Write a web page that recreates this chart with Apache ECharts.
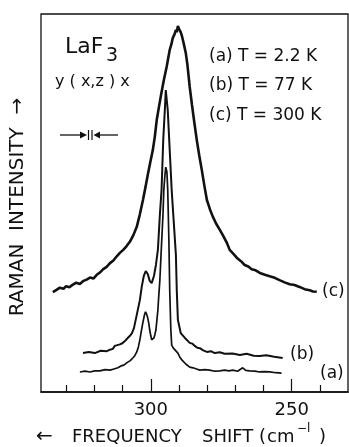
<!DOCTYPE html>
<html><head><meta charset="utf-8">
<script src="https://cdn.jsdelivr.net/npm/echarts@6/dist/echarts.min.js"></script>
<style>html,body{margin:0;padding:0;background:#fff}#c{width:349px;height:447px}</style>
</head><body><div id="c"></div>
<script>
// Frequency shift (cm-1) vs Raman intensity (arb. units, offset curves)
const cData = [[334.8,26.4],[333.5,27.0],[332.3,27.6],[331.0,27.3],[330.1,28.0],[328.9,27.7],[327.7,28.4],[326.5,28.9],[325.2,28.6],[323.9,29.4],[322.6,29.8],[321.6,30.3],[320.4,30.0],[319.2,31.0],[318.1,31.6],[316.9,32.5],[315.7,33.1],[314.5,34.1],[313.3,34.8],[312.1,35.9],[311.0,36.8],[309.8,37.6],[308.6,38.6],[307.4,39.8],[306.2,41.5],[305.0,43.7],[303.9,47.0],[302.8,50.8],[301.9,54.2],[301.1,57.4],[300.2,60.8],[299.3,64.0],[298.6,67.5],[297.9,72.0],[297.1,75.5],[296.3,78.9],[295.4,82.5],[294.4,86.0],[293.3,90.5],[292.7,92.0],[292.2,93.7],[291.6,94.6],[291.1,95.8],[290.8,95.2],[290.4,96.8],[290.0,96.1],[289.6,96.5],[289.4,95.2],[288.9,94.0],[288.3,92.1],[287.6,89.7],[287.0,86.5],[286.2,80.7],[285.4,76.0],[284.6,71.5],[283.7,66.7],[282.8,62.5],[281.9,58.7],[281.0,54.6],[280.1,50.8],[279.0,48.3],[278.0,46.4],[276.8,44.5],[275.5,42.9],[274.3,41.3],[273.1,39.6],[272.0,37.6],[270.6,36.5],[269.2,35.3],[268.0,34.6],[266.7,33.6],[265.4,33.2],[264.2,32.5],[262.8,32.2],[261.3,31.5],[259.5,31.0],[257.8,30.6],[256.0,30.2],[254.3,29.6],[252.5,29.0],[250.7,28.5],[249.0,28.3],[247.2,27.8],[245.4,27.2],[243.6,26.9],[242.4,26.6],[241.1,26.5]];
const bData = [[324.1,10.3],[322.0,10.6],[319.9,10.3],[317.8,10.9],[315.6,10.8],[314.5,11.2],[313.5,11.4],[312.8,12.2],[312.1,12.4],[311.0,12.6],[310.1,12.9],[309.2,13.5],[308.3,14.2],[307.5,14.8],[306.7,15.6],[306.0,16.9],[305.0,20.4],[303.9,24.3],[303.2,28.0],[302.5,30.7],[301.8,32.0],[301.1,31.2],[300.4,29.4],[299.7,28.8],[298.9,30.7],[298.2,33.6],[297.5,37.6],[296.8,46.8],[296.2,53.4],[295.6,66.7],[295.0,75.1],[294.7,79.9],[294.0,74.6],[293.3,64.0],[292.6,53.4],[291.8,44.2],[291.1,36.2],[290.8,27.0],[290.4,19.1],[289.4,15.6],[287.9,14.3],[286.2,13.0],[285.3,12.8],[284.4,12.2],[283.5,11.7],[282.6,11.6],[281.4,11.0],[280.1,10.6],[278.7,10.8],[277.3,10.3],[275.5,10.5],[273.8,10.1],[271.0,10.2],[268.4,9.8],[266.0,10.1],[263.5,9.6],[261.4,9.5],[259.0,9.7],[256.2,9.3],[253.2,9.0]];
const aData = [[325.2,5.3],[323.4,5.5],[321.6,5.3],[319.9,5.6],[318.1,5.6],[316.3,5.9],[314.5,5.8],[313.1,6.1],[311.7,6.4],[310.6,6.9],[309.6,7.1],[308.2,7.9],[307.3,8.3],[306.4,9.0],[305.7,9.6],[305.0,10.6],[304.4,12.0],[303.9,13.8],[303.4,16.0],[302.8,18.5],[302.3,20.3],[301.9,21.2],[301.5,20.6],[301.1,19.6],[300.7,18.0],[300.4,16.4],[300.0,14.8],[299.7,13.8],[299.3,13.9],[298.9,14.3],[298.6,15.1],[298.2,16.4],[297.9,18.6],[297.5,21.7],[297.2,25.3],[296.8,29.6],[296.3,37.6],[295.7,46.8],[295.4,53.4],[295.0,57.4],[294.7,59.5],[294.3,58.2],[294.0,53.4],[293.6,40.2],[293.3,27.0],[292.9,16.4],[292.6,12.4],[292.0,11.6],[291.5,11.1],[290.4,10.3],[289.7,9.2],[289.0,8.5],[287.6,7.4],[286.2,6.6],[285.0,6.4],[283.8,6.1],[282.6,5.8],[280.9,5.9],[279.1,5.8],[277.3,5.5],[275.5,5.6],[273.8,5.8],[272.3,5.6],[270.9,5.8],[269.2,5.5],[267.4,6.4],[266.3,5.7],[264.9,5.6],[263.1,5.5],[261.4,5.3],[259.6,5.4],[257.8,5.3],[255.6,5.1],[253.6,5.0]];
const majorTicks = [300, 250];
const minorTicks = [330, 320, 310, 290, 280, 270, 260, 240];
const curveLabels = ['(c)', '(b)', '(a)'];
const tempLabels = ['(a) T = 2.2 K', '(b) T = 77 K', '(c) T = 300 K'];

const F = 'DejaVu Sans';
const ink = '#111';
const chart = echarts.init(document.getElementById('c'), null, {renderer: 'canvas'});
function txt(text, x, y, size, extra) {
  return Object.assign({type: 'text', x: x, y: y, z: 100,
    style: {text: text, font: size + 'px "' + F + '"', fill: ink, align: 'left', verticalAlign: 'middle'}}, extra || {});
}
const lineSeries = (data, w) => ({type: 'line', data: data, showSymbol: false, smooth: false,
  lineStyle: {color: ink, width: w}, silent: true});

chart.setOption({
  animation: false,
  backgroundColor: '#fff',
  grid: {left: 41, right: 1, top: 14, bottom: 55, show: true, borderColor: ink, borderWidth: 1.3},
  xAxis: [{
    type: 'value', inverse: true, min: 230, max: 339, interval: 10,
    axisLine: {show: true, lineStyle: {color: ink, width: 1.5}},
    axisTick: {show: true, inside: true, length: 7, customValues: minorTicks, lineStyle: {color: ink, width: 1.2}},
    axisLabel: {show: true, customValues: majorTicks, margin: 9, color: ink, fontSize: 18, fontFamily: F},
    splitLine: {show: false}
  }, {
    type: 'value', inverse: true, min: 230, max: 339, interval: 10, position: 'bottom',
    axisLine: {show: false},
    axisTick: {show: true, inside: true, length: 13, customValues: majorTicks, lineStyle: {color: ink, width: 1.2}},
    axisLabel: {show: false}, splitLine: {show: false}
  }],
  yAxis: {type: 'value', min: 0, max: 100, axisLine: {show: false}, axisTick: {show: false},
    axisLabel: {show: false}, splitLine: {show: false}},
  series: [lineSeries(cData, 2.6), lineSeries(bData, 2.0), lineSeries(aData, 1.7)],
  graphic: [
    txt('RAMAN  INTENSITY  \u2192', 18, 207, 20, {rotation: Math.PI / 2, style: {text: 'RAMAN  INTENSITY  \u2192', font: '20px "' + F + '"', fill: ink, align: 'center', verticalAlign: 'middle'}}),
    txt('\u2190', 36, 437, 20),
    txt('FREQUENCY', 72, 437, 18),
    txt('SHIFT', 202, 437, 18),
    txt('(', 259, 437, 18),
    txt('cm', 267, 437, 18),
    txt('\u2212l', 297, 429, 12),
    txt(')', 319, 437, 18),
    txt('LaF', 65, 47, 22),
    txt('3', 106, 56, 19),
    txt('y ( x,z ) x', 55, 82, 16),
    txt(tempLabels[0], 209, 57, 17),
    txt(tempLabels[1], 209, 86, 17),
    txt(tempLabels[2], 209, 116, 17),
    txt(curveLabels[0], 322, 292, 17),
    txt(curveLabels[1], 290, 355, 17),
    txt(curveLabels[2], 320, 374, 17),
    {type: 'line', z: 100, shape: {x1: 60, y1: 135, x2: 82, y2: 135}, style: {stroke: ink, lineWidth: 1.3}},
    {type: 'polygon', z: 100, shape: {points: [[80, 131.5], [87, 135], [80, 138.5]]}, style: {fill: ink}},
    {type: 'line', z: 100, shape: {x1: 88.5, y1: 130, x2: 88.5, y2: 140}, style: {stroke: ink, lineWidth: 1.2}},
    {type: 'line', z: 100, shape: {x1: 92, y1: 130, x2: 92, y2: 140}, style: {stroke: ink, lineWidth: 1.2}},
    {type: 'polygon', z: 100, shape: {points: [[100, 131.5], [93.5, 135], [100, 138.5]]}, style: {fill: ink}},
    {type: 'line', z: 100, shape: {x1: 98, y1: 135, x2: 118, y2: 135}, style: {stroke: ink, lineWidth: 1.3}}
  ]
});
</script>
</body></html>
